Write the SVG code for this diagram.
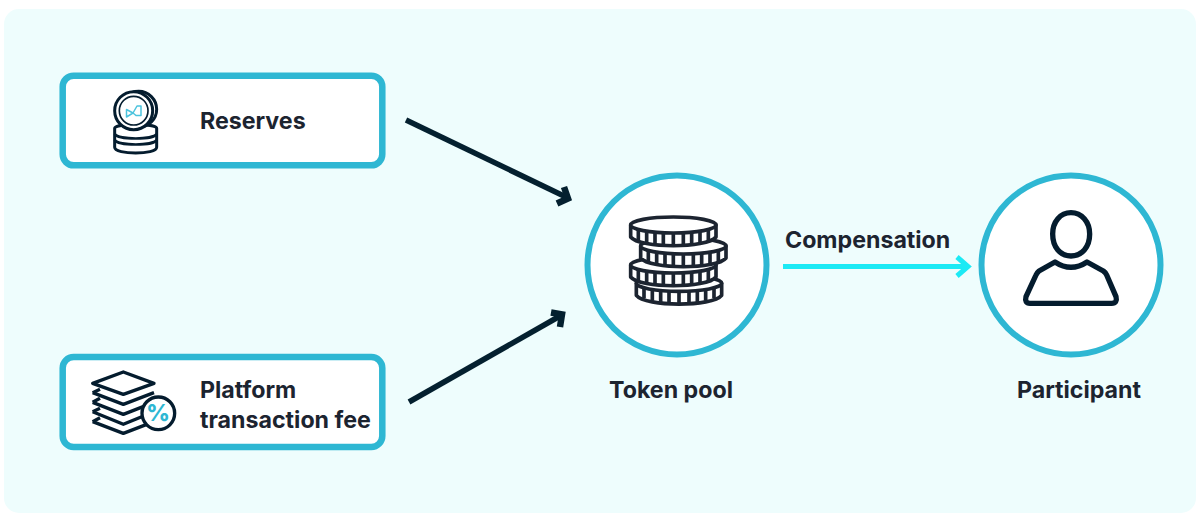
<svg xmlns="http://www.w3.org/2000/svg" width="1196" height="513" viewBox="0 0 1196 513">
<style>
.ring{fill:#fff;stroke:#2eb7d3;stroke-width:6}
.box{fill:#fff;stroke:#2eb7d3;stroke-width:6.500}
.lbl{font-family:Inter,"Liberation Sans",sans-serif;font-weight:700;font-size:23.200px;fill:#1c2430}
.ink{fill:#fff;stroke:#041c2e;stroke-linejoin:round;stroke-linecap:round}
.coin{fill:#fff;stroke:#1c2430;stroke-width:11;stroke-linejoin:round}
.arr{fill:none;stroke:#04202f;stroke-width:5.500;stroke-linejoin:miter}
.head{fill:none;stroke:#04202f;stroke-width:6.500;stroke-linejoin:miter}
.arrc{fill:none;stroke:#1ceaf5;stroke-width:5}
</style>
<defs>
<g id="coin">
<path class="coin" d="M-128 0V36C-100 71 100 71 128 36V0Z"/>
<ellipse class="coin" cx="0" cy="0" rx="128" ry="24"/>
<path class="coin" d="M0 24V62M-30 23V60M30 23V60M-55 22V57M55 22V57M-80 19V52M80 19V52M-105 14V45M105 14V45"/>
</g>
</defs>
<rect x="4" y="9" width="1192" height="504" rx="15" fill="#eefdfd"/>
<g id="connectors">
<path class="arr" d="M406 120L566 197"/>
<path class="head" d="M564 187L568 198.500L557 203.500"/>
<path class="arr" d="M409 402L560 316"/>
<path class="head" d="M551 312.500L562 314.500L560 327"/>
<path class="arrc" d="M783 266.500H967M957 257L968 266.500L957 276"/>
</g>
<g id="reserves">
<rect class="box" x="62.700" y="75.700" width="319.600" height="89.600" rx="11"/>
<g transform="translate(50 60) scale(.33333)">
<path class="ink" stroke-width="9" d="M194 205C194 190 320 190 320 205V262C320 285 194 285 194 262Z"/>
<path fill="none" stroke="#041c2e" stroke-width="8" d="M194 222C205 240 310 240 320 222M194 240C205 258 310 258 320 240"/>
<circle class="ink" stroke-width="9" cx="266" cy="148" r="54"/>
<circle class="ink" stroke-width="9" cx="251" cy="152" r="57"/>
<circle fill="#fff" stroke="#041c2e" stroke-width="5" cx="251" cy="152" r="43"/>
</g>
<path fill="none" stroke="#4cc3dd" stroke-width="1.500" stroke-linejoin="round" d="M126.500 109.500V117L133 113ZM133 113L137 106H141V115.500H136L133 113"/>
<text class="lbl" x="200" y="128.500">Reserves</text>
</g>
<g id="platform-fee">
<rect class="box" x="62.700" y="357" width="319.600" height="90" rx="11"/>
<g transform="translate(50 345) scale(.33333)">
<g fill="none" stroke="#041c2e" stroke-width="10" stroke-linejoin="round">
<path d="M128 230L220 265L312 230M128 200L220 238L312 200M128 172L220 208L312 172M128 143L220 178L312 143"/>
<path d="M128 143L150 133M128 172L150 160M128 200L150 190M128 230L150 218"/>
<path fill="#fff" d="M128 115L220 81L312 115L220 148Z"/>
</g>
<circle fill="#fff" stroke="#041c2e" stroke-width="10" cx="325" cy="205" r="49"/>
</g>
<text x="158" y="421" text-anchor="middle" font-family="Inter,'Liberation Sans',sans-serif" font-weight="800" font-size="23" fill="#2eb7d3">%</text>
<text class="lbl" x="200" y="397.500">Platform</text>
<text class="lbl" x="200" y="427.500">transaction fee</text>
</g>
<g id="token-pool">
<circle class="ring" cx="677" cy="265" r="89.500"/>
<g transform="translate(580 170) scale(.33333)">
<use href="#coin" x="297" y="340"/>
<use href="#coin" x="280" y="285"/>
<use href="#coin" x="310" y="228"/>
<use href="#coin" x="280" y="165"/>
</g>
<text class="lbl" x="671" y="397.500" text-anchor="middle">Token pool</text>
</g>
<g id="participant">
<circle class="ring" cx="1071" cy="265" r="89.500"/>
<g transform="translate(975 170) scale(.33333)">
<path class="ink" stroke-width="16" fill="none" d="M288 128C320 128 344 155 344 192C344 232 320 258 288 258C256 258 233 232 233 192C233 155 256 128 288 128Z"/>
<path class="ink" stroke-width="16" d="M240 276Q288 308 336 276L385 303Q392 308 395 315L423 380Q428 400 410 400H165Q148 400 153 380L183 315Q186 308 192 303Z"/>
</g>
<text class="lbl" x="1079" y="397.500" text-anchor="middle">Participant</text>
</g>
<text class="lbl" x="785" y="247.500">Compensation</text>
</svg>
